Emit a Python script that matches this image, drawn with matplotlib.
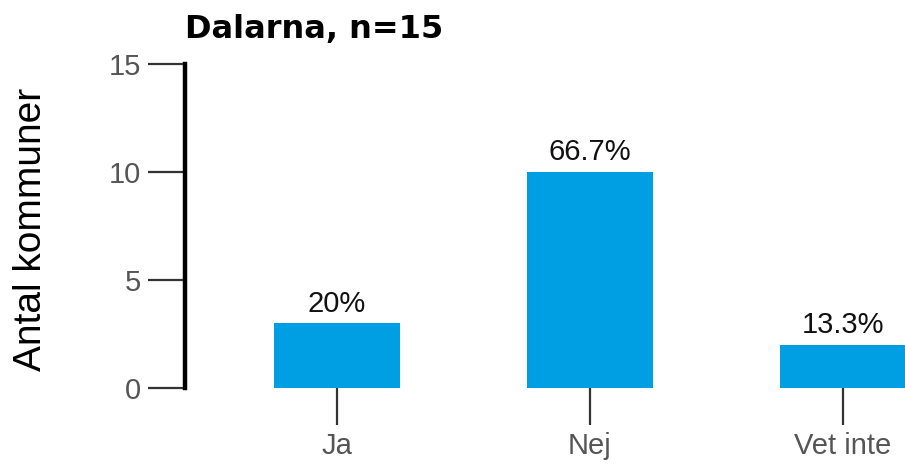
import matplotlib
matplotlib.use('Agg')
import matplotlib.pyplot as plt

plt.rcParams['font.family'] = ['Liberation Sans', 'DejaVu Sans']

# data
categories = ['Ja', 'Nej', 'Vet inte']
counts = [3, 10, 2]
n_total = 15
region = 'Dalarna'

bar_color = '#009fe3'
tick_color = '#555555'

fig = plt.figure(figsize=(9.05, 4.65), dpi=100)
ax = fig.add_axes([185 / 905, 1 - 388 / 465, 720 / 905, 324 / 465])

x = list(range(len(categories)))
ax.bar(x, counts, width=0.5, color=bar_color, zorder=2)

# percentage labels above bars
for xi, c in zip(x, counts):
    pct = round(100 * c / n_total, 1)
    ax.annotate(f'{pct:g}%', (xi, c), xytext=(0, 4), textcoords='offset points',
                ha='center', va='bottom', fontsize=21, color='#111111')

ax.set_xlim(-0.6, 2.245)
ax.set_ylim(0, 15)
ax.set_yticks([0, 5, 10, 15])
ax.set_xticks(x)
ax.set_xticklabels(categories)

for side in ['top', 'right', 'bottom']:
    ax.spines[side].set_visible(False)
ax.spines['left'].set_linewidth(3.2)
ax.spines['left'].set_color('black')

ax.tick_params(axis='both', length=26.5, width=1.6, color='#333333',
               labelsize=21, labelcolor=tick_color, pad=5)

ax.set_title(f'{region}, n={n_total}', loc='left', fontweight='bold',
             fontsize=23, pad=19, family=['DejaVu Sans'])
fig.text(31 / 905, 1 - 229 / 465, 'Antal kommuner', rotation=90,
         ha='center', va='center', fontsize=28, color='black')

fig.savefig('out.png', dpi=100)
